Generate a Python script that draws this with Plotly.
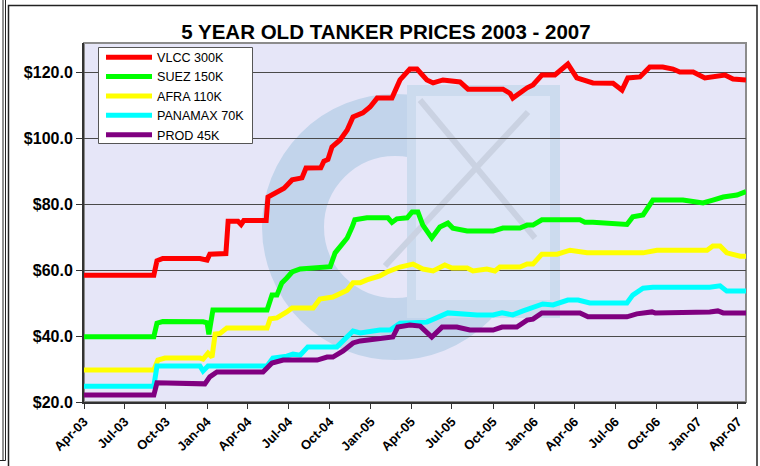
import plotly.graph_objects as go

# ---------------- data ----------------
vlcc_dates = ["2003-04-01","2003-09-04","2003-09-11","2003-09-24","2003-12-16","2004-01-01","2004-01-07","2004-02-12","2004-02-17","2004-03-10","2004-03-17","2004-03-23","2004-05-12","2004-05-16","2004-06-21","2004-07-09","2004-07-31","2004-08-09","2004-09-11","2004-09-18","2004-09-27","2004-10-06","2004-10-24","2004-11-09","2004-11-22","2004-12-14","2004-12-30","2005-01-15","2005-02-17","2005-03-07","2005-03-29","2005-04-14","2005-05-06","2005-05-20","2005-06-11","2005-07-19","2005-08-06","2005-10-23","2005-11-08","2005-11-14","2005-12-16","2005-12-29","2006-01-18","2006-02-16","2006-03-17","2006-04-06","2006-05-12","2006-06-26","2006-07-16","2006-07-29","2006-08-25","2006-09-16","2006-10-15","2006-11-07","2006-11-22","2006-12-22","2007-01-17","2007-02-04","2007-03-03","2007-03-21","2007-04-19"]
vlcc_prices = [58.4,58.4,62.8,63.5,63.5,63.0,64.8,65.0,74.8,74.8,73.8,75.0,75.0,82.1,84.8,87.3,87.9,90.9,91.0,93.0,93.5,97.3,99.4,102.4,106.4,107.6,109.4,112.1,112.1,117.6,120.9,120.9,117.6,116.7,117.6,117.0,114.8,114.8,113.5,112.1,115.2,116.1,119.1,119.1,122.4,118.2,116.7,116.6,114.5,118.2,118.5,121.5,121.5,120.9,120.0,120.0,118.2,118.5,119.1,117.9,117.6]

suez_dates = ["2003-04-01","2003-09-04","2003-09-11","2003-09-24","2003-12-23","2004-01-01","2004-01-05","2004-01-14","2004-05-14","2004-05-25","2004-06-05","2004-06-16","2004-06-27","2004-07-09","2004-07-27","2004-09-25","2004-10-02","2004-10-13","2004-10-24","2004-11-09","2004-11-20","2004-11-26","2004-12-23","2005-02-08","2005-02-17","2005-02-28","2005-03-23","2005-04-03","2005-04-16","2005-04-27","2005-05-17","2005-06-04","2005-06-22","2005-07-03","2005-08-04","2005-10-01","2005-10-23","2005-11-30","2005-12-16","2005-12-29","2006-01-18","2006-04-13","2006-04-24","2006-05-12","2006-07-27","2006-08-09","2006-09-01","2006-09-23","2006-11-29","2007-01-13","2007-02-04","2007-02-27","2007-03-30","2007-04-19"]
suez_prices = [39.8,39.8,43.9,44.4,44.3,44.0,40.5,47.9,47.9,52.4,52.4,56.1,57.6,59.4,60.3,60.6,61.0,65.2,67.0,69.7,73.0,75.2,75.8,75.8,74.4,75.5,75.8,77.6,77.6,73.6,69.7,73.0,74.2,72.7,71.8,71.8,72.7,72.7,73.6,73.6,75.2,75.2,74.5,74.5,73.8,76.1,76.7,81.2,81.2,80.3,81.2,82.1,82.7,83.8]

afra_dates = ["2003-04-01","2003-09-04","2003-09-13","2003-09-29","2003-12-16","2003-12-23","2004-01-03","2004-01-12","2004-01-19","2004-01-30","2004-02-14","2004-05-14","2004-05-21","2004-06-05","2004-06-27","2004-07-09","2004-08-25","2004-09-09","2004-10-08","2004-11-09","2004-11-22","2004-12-08","2004-12-23","2005-01-21","2005-02-06","2005-03-07","2005-04-05","2005-04-27","2005-05-20","2005-06-15","2005-07-01","2005-08-04","2005-08-17","2005-09-17","2005-10-05","2005-10-16","2005-11-30","2005-12-16","2005-12-29","2006-01-18","2006-02-21","2006-03-22","2006-04-29","2006-09-01","2006-10-02","2007-01-22","2007-02-04","2007-02-20","2007-03-07","2007-04-06","2007-04-19"]
afra_prices = [29.7,29.7,32.7,33.3,33.3,33.0,34.8,33.6,40.6,40.8,42.4,42.4,45.2,45.5,47.3,48.5,48.5,51.2,51.8,53.9,56.1,56.1,57.0,58.2,59.4,60.9,61.8,60.3,59.7,61.5,60.6,60.6,59.7,60.3,59.7,60.9,60.9,61.8,61.8,64.8,64.8,66.0,65.2,65.2,66.0,66.0,67.3,67.3,65.2,64.2,64.2]

panamax_dates = ["2003-04-01","2003-09-04","2003-09-11","2003-12-16","2003-12-23","2004-01-03","2004-05-14","2004-05-27","2004-06-27","2004-07-11","2004-07-27","2004-08-13","2004-10-17","2004-11-09","2004-11-22","2004-12-08","2005-01-21","2005-02-13","2005-03-07","2005-05-06","2005-05-29","2005-06-22","2005-08-26","2005-10-01","2005-10-21","2005-11-14","2005-12-07","2005-12-29","2006-01-20","2006-02-12","2006-03-17","2006-04-09","2006-05-05","2006-07-27","2006-08-09","2006-09-01","2006-09-23","2007-01-28","2007-02-20","2007-03-07","2007-04-19"]
panamax_prices = [24.8,24.8,30.9,30.9,29.4,30.9,30.9,33.3,33.9,34.5,34.2,36.7,36.7,39.7,41.5,40.9,41.8,41.8,43.9,44.2,45.5,47.0,46.4,46.4,47.0,46.4,47.6,48.5,49.7,49.4,50.9,50.9,50.0,50.0,52.4,54.5,54.8,54.8,55.2,53.6,53.6]

prod_dates = ["2003-04-01","2003-09-04","2003-09-11","2003-12-16","2003-12-27","2004-01-07","2004-01-23","2004-05-05","2004-05-25","2004-06-19","2004-09-03","2004-09-25","2004-10-08","2004-10-31","2004-11-22","2004-12-08","2005-01-21","2005-02-19","2005-03-02","2005-03-29","2005-04-21","2005-05-17","2005-06-09","2005-07-12","2005-08-10","2005-10-01","2005-10-21","2005-11-23","2005-12-16","2005-12-29","2006-01-18","2006-04-13","2006-05-01","2006-07-27","2006-08-18","2006-09-21","2006-09-28","2007-01-13","2007-01-28","2007-02-15","2007-02-27","2007-04-19"]
prod_prices = [22.1,22.1,25.8,25.8,25.5,27.6,29.1,29.1,31.8,32.7,32.7,33.6,33.6,35.5,37.9,38.5,39.1,39.7,42.7,43.3,43.0,39.7,42.7,42.7,41.8,41.8,42.7,42.7,44.8,45.1,47.0,47.0,45.8,45.8,46.7,47.3,47.0,47.0,47.3,47.6,47.0,47.0]

series_names = ["VLCC 300K", "SUEZ 150K", "AFRA 110K", "PANAMAX 70K", "PROD 45K"]
series_colors = ["#FF0000", "#00FF00", "#FFFF00", "#00FFFF", "#800080"]
series_dates = [vlcc_dates, suez_dates, afra_dates, panamax_dates, prod_dates]
series_prices = [vlcc_prices, suez_prices, afra_prices, panamax_prices, prod_prices]

title_text = "5 YEAR OLD TANKER PRICES 2003 - 2007"

# ---------------- layout geometry ----------------
W, H = 760, 466
PL, PR, PT, PB = 84, 746, 43, 402   # plot area in pixels


def px(x):
    return (x - PL) / (PR - PL)


def py(y):
    return (PB - y) / (PB - PT)


FONT = "Liberation Sans, Arial, sans-serif"

fig = go.Figure()
for name, color, d, p in zip(series_names, series_colors, series_dates, series_prices):
    fig.add_trace(go.Scatter(x=d, y=p, mode="lines", name=name,
                             line=dict(color=color, width=5)))

shapes = []
# watermark: ring + square with X
cx, cy, rmid = 395, 227, 102
shapes.append(dict(type="circle", xref="paper", yref="paper", layer="below",
                   x0=px(cx - rmid), x1=px(cx + rmid), y0=py(cy + rmid), y1=py(cy - rmid),
                   line=dict(color="#C2D4EB", width=62), fillcolor="rgba(0,0,0,0)"))
shapes.append(dict(type="rect", xref="paper", yref="paper", layer="below",
                   x0=px(407), x1=px(560), y0=py(318), y1=py(85),
                   line=dict(width=0), fillcolor="#CCDBEE"))
shapes.append(dict(type="rect", xref="paper", yref="paper", layer="below",
                   x0=px(416), x1=px(550), y0=py(300), y1=py(96),
                   line=dict(width=0), fillcolor="#DDE5F6"))
shapes.append(dict(type="line", xref="paper", yref="paper", layer="below",
                   x0=px(420), x1=px(535), y0=py(100), y1=py(238),
                   line=dict(color="#CAD2E2", width=6)))
shapes.append(dict(type="line", xref="paper", yref="paper", layer="below",
                   x0=px(528), x1=px(385), y0=py(112), y1=py(266),
                   line=dict(color="#CAD2E2", width=6)))
# plot area border (gray, Excel-like)
shapes.append(dict(type="rect", xref="paper", yref="paper", layer="below",
                   x0=0, x1=1, y0=0, y1=1, line=dict(color="#8C8C8C", width=2)))
# legend box (drawn under the legend entries)
shapes.append(dict(type="rect", xref="paper", yref="paper", layer="above",
                   x0=px(98.5), x1=px(252.5), y0=py(143.5), y1=py(47.5),
                   line=dict(color="#555555", width=1), fillcolor="white"))
# outer frames
shapes.append(dict(type="rect", xref="paper", yref="paper", layer="above",
                   x0=px(8.5), x1=px(757), y0=py(475), y1=py(5.5),
                   line=dict(color="#222222", width=1.5), fillcolor="rgba(0,0,0,0)"))
shapes.append(dict(type="line", xref="paper", yref="paper", layer="above",
                   x0=px(3), x1=px(3), y0=py(-5), y1=py(460.5),
                   line=dict(color="#222222", width=1)))
shapes.append(dict(type="line", xref="paper", yref="paper", layer="above",
                   x0=px(5.5), x1=px(5.5), y0=py(-5), y1=py(460.5),
                   line=dict(color="#222222", width=1)))
shapes.append(dict(type="line", xref="paper", yref="paper", layer="above",
                   x0=px(-5), x1=px(5.5), y0=py(460.5), y1=py(460.5),
                   line=dict(color="#222222", width=1)))

fig.update_layout(
    width=W, height=H,
    margin=dict(l=PL, r=W - PR, t=PT, b=H - PB),
    paper_bgcolor="white",
    plot_bgcolor="#E6E6F8",
    font=dict(family=FONT, color="black"),
    title=dict(text=title_text, x=386 / W, xref="container", xanchor="center",
               y=1 - 31.5 / H, yref="container", yanchor="middle",
               font=dict(family=FONT, size=20.5, weight="bold", color="black")),
    showlegend=True,
    legend=dict(x=px(101), y=py(42.5), xanchor="left", yanchor="top",
                bgcolor="rgba(0,0,0,0)", borderwidth=0,
                font=dict(family=FONT, size=12.6, color="black"),
                tracegroupgap=0, itemwidth=46),
    shapes=shapes,
)

fig.update_xaxes(
    type="date", range=["2003-04-01", "2007-04-19"],
    tick0="2003-04-01", dtick="M3", tickformat="%b-%y",
    tickangle=-45, ticks="outside", ticklen=5, tickcolor="#333333",
    tickfont=dict(family=FONT, size=13, weight="bold", color="black"),
    showgrid=False, zeroline=False,
    showline=True, linecolor="#333333", linewidth=2,
)
fig.update_yaxes(
    range=[20, 20 + (PB - PT) / 3.3],
    tick0=20, dtick=20, tickprefix="$", tickformat=".1f",
    ticks="outside", ticklen=6, tickcolor="#333333",
    tickfont=dict(family=FONT, size=16, weight="bold", color="black"),
    showgrid=True, gridcolor="#4A4A4A", gridwidth=1, zeroline=False,
    showline=True, linecolor="#333333", linewidth=2,
)

fig.write_html("out.html", config={"displayModeBar": False},
               post_script="document.body.style.margin='0';")
